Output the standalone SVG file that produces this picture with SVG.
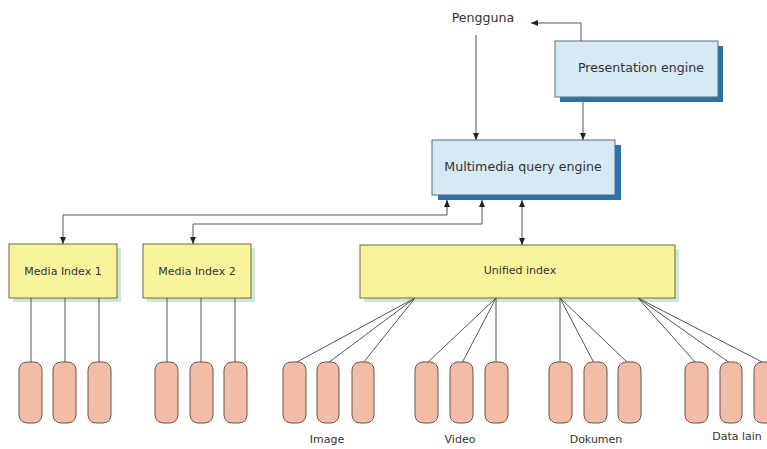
<svg xmlns="http://www.w3.org/2000/svg" width="767" height="449" viewBox="0 0 767 449">
<defs>
<style>
text{font-family:"DejaVu Sans","Liberation Sans",sans-serif;fill:#333;font-size:11px;text-anchor:middle}
.big{font-size:12.6px}
.blue{fill:#d6e9f7;stroke:#5a6a78;stroke-width:1}
.bshadow{fill:#2a72a8}
.yellow{fill:#f9f49c;stroke:#6b6a3a;stroke-width:1}
.yshadow{fill:#cfe5d8}
.pill{fill:#f2bca6;stroke:#6a5550;stroke-width:1}
.ln{fill:none;stroke:#555;stroke-width:1}
</style>
<marker id="ah" markerWidth="8" markerHeight="8" refX="7" refY="4" orient="auto" markerUnits="userSpaceOnUse">
<path d="M0,1 L7,4 L0,7 Z" fill="#222"/>
</marker>
<marker id="ahs" markerWidth="8" markerHeight="8" refX="1" refY="4" orient="auto" markerUnits="userSpaceOnUse">
<path d="M8,1 L1,4 L8,7 Z" fill="#222"/>
</marker>
</defs>
<rect width="767" height="449" fill="#fff"/>

<g id="pengguna">
<text class="big" x="483" y="22">Pengguna</text>
</g>

<g id="presentation">
<rect class="bshadow" x="560" y="46" width="163" height="56"/>
<rect class="blue" x="555" y="41" width="163" height="56"/>
<text class="big" x="641" y="72">Presentation engine</text>
</g>

<g id="mqe">
<rect class="bshadow" x="438" y="145" width="183" height="55"/>
<rect class="blue" x="432" y="140" width="183" height="55"/>
<text class="big" x="523" y="171">Multimedia query engine</text>
</g>

<g id="mi1">
<rect class="yshadow" x="13" y="248" width="108" height="54"/>
<rect class="yellow" x="9" y="244" width="108" height="54"/>
<text x="63" y="275">Media Index 1</text>
</g>
<g id="mi2">
<rect class="yshadow" x="147" y="248" width="108" height="54"/>
<rect class="yellow" x="143" y="244" width="108" height="54"/>
<text x="197" y="275">Media Index 2</text>
</g>
<g id="unified">
<rect class="yshadow" x="364" y="249" width="315" height="53"/>
<rect class="yellow" x="360" y="245" width="315" height="53"/>
<text x="520" y="274">Unified index</text>
</g>

<g id="connectors">
<polyline class="ln" points="581,41 581,23 531,23" marker-end="url(#ah)"/>
<line class="ln" x1="476" y1="35" x2="476" y2="140" marker-end="url(#ah)"/>
<line class="ln" x1="583" y1="102" x2="583" y2="140" marker-end="url(#ah)"/>
<polyline class="ln" points="63,244 63,215 447,215 447,200" marker-start="url(#ahs)" marker-end="url(#ah)"/>
<polyline class="ln" points="193,244 193,224 482,224 482,200" marker-start="url(#ahs)" marker-end="url(#ah)"/>
<line class="ln" x1="522" y1="200" x2="522" y2="245" marker-start="url(#ahs)" marker-end="url(#ah)"/>
<path class="ln" d="M31,298V362M65,298V362M99,298V362M167,298V362M201,298V362M235,298V362"/>
<path class="ln" d="M415,298L295,363M415,298L328,363M415,298L363,363"/>
<path class="ln" d="M496,298L427,363M496,298L462,363M496,298L496,363"/>
<path class="ln" d="M560,298L560,363M560,298L594,363M560,298L628,363"/>
<path class="ln" d="M638,298L696,363M638,298L730,363M638,298L764,363"/>
</g>

<g id="stores">
<rect class="pill" x="19" y="362" width="23" height="61" rx="8"/>
<rect class="pill" x="53" y="362" width="23" height="61" rx="8"/>
<rect class="pill" x="88" y="362" width="23" height="61" rx="8"/>
<rect class="pill" x="155" y="362" width="23" height="61" rx="8"/>
<rect class="pill" x="190" y="362" width="23" height="61" rx="8"/>
<rect class="pill" x="224" y="362" width="23" height="61" rx="8"/>
<rect class="pill" x="283" y="362" width="23" height="61" rx="8"/>
<rect class="pill" x="317" y="362" width="22" height="61" rx="8"/>
<rect class="pill" x="352" y="362" width="22" height="61" rx="8"/>
<rect class="pill" x="415" y="362" width="23" height="61" rx="8"/>
<rect class="pill" x="450" y="362" width="23" height="61" rx="8"/>
<rect class="pill" x="485" y="362" width="23" height="61" rx="8"/>
<rect class="pill" x="549" y="362" width="23" height="61" rx="8"/>
<rect class="pill" x="584" y="362" width="23" height="61" rx="8"/>
<rect class="pill" x="618" y="362" width="23" height="61" rx="8"/>
<rect class="pill" x="685" y="362" width="23" height="61" rx="8"/>
<rect class="pill" x="720" y="362" width="22" height="61" rx="8"/>
<rect class="pill" x="754" y="362" width="23" height="61" rx="8"/>
</g>

<g id="labels">
<text x="327" y="443">Image</text>
<text x="460" y="443">Video</text>
<text x="596" y="443">Dokumen</text>
<text x="737" y="440">Data lain</text>
</g>
</svg>
